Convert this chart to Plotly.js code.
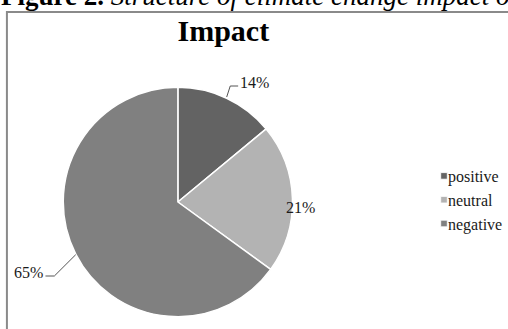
<!DOCTYPE html>
<html>
<head>
<meta charset="utf-8">
<script src="https://cdn.plot.ly/plotly-3.0.1.min.js"></script>
<style>
  html, body { margin: 0; padding: 0; background: #ffffff; }
  #chart { width: 508px; height: 329px; }
  /* smaller legend swatches, tucked next to the labels */
  .legendpie { transform: translate(36px, 0px) scale(0.55); }
</style>
</head>
<body>
<div id="chart"></div>
<script>
// Share of responses by type of climate change impact (%)
const categories = ['positive', 'neutral', 'negative'];
const shares = [14, 21, 65];
const sliceColors = ['#636363', '#b3b3b3', '#808080'];

const W = 508, H = 329;
const serif = 'Liberation Serif, Times New Roman, serif';

// pie geometry in pixels
const cx = 180, cy = 202, R = 116;
const px = x => x / W;
const py = y => 1 - y / H;

// percentage label placement (pixels) and optional leader elbows
const labelPos = [[258, 82], [304, 207], [29, 272]];
const leaderElbows = [[[233, 86], [241, 86]], null, [[55, 276], [46, 276]]];

const total = shares.reduce((a, b) => a + b, 0);
const annotations = [];
const shapes = [];

// chart frame
shapes.push({
  type: 'rect', xref: 'paper', yref: 'paper',
  x0: px(7), x1: px(530), y0: py(12), y1: py(360),
  line: { color: '#8a8a8a', width: 2 }, layer: 'below'
});

let cum = 0;
shares.forEach((v, i) => {
  const mid = (cum + v / 2) / total * 2 * Math.PI;
  cum += v;
  annotations.push({
    xref: 'paper', yref: 'paper',
    x: px(labelPos[i][0]), y: py(labelPos[i][1]),
    xanchor: 'center', yanchor: 'middle', showarrow: false,
    text: v + '%',
    font: { family: serif, size: 16, color: '#1a1a1a' }
  });
  if (leaderElbows[i]) {
    const ex = cx + R * Math.sin(mid), ey = cy - R * Math.cos(mid);
    const pts = [[ex, ey]].concat(leaderElbows[i]);
    const d = pts.map((p, k) => (k ? 'L' : 'M') + px(p[0]) + ',' + py(p[1])).join(' ');
    shapes.push({
      type: 'path', xref: 'paper', yref: 'paper', path: d,
      line: { color: '#555555', width: 1 }
    });
  }
});

// figure caption running across the top edge
annotations.push({
  xref: 'paper', yref: 'paper', x: 0, y: 1, xshift: -1, yshift: -13,
  xanchor: 'left', yanchor: 'bottom', showarrow: false,
  text: '<b>Figure 2.</b> <i>Structure of climate change impact on</i>',
  font: { family: serif, size: 27, color: '#000000' }
});

const trace = {
  type: 'pie',
  labels: categories,
  values: shares,
  sort: false,
  direction: 'clockwise',
  rotation: 0,
  textinfo: 'none',
  hoverinfo: 'label+percent',
  marker: { colors: sliceColors, line: { color: '#ffffff', width: 1.5 } },
  domain: { x: [px(cx - R), px(cx + R)], y: [py(cy + R), py(cy - R)] }
};

const layout = {
  width: W, height: H,
  margin: { l: 0, r: 0, t: 0, b: 0 },
  paper_bgcolor: '#ffffff',
  title: {
    text: '<b>Impact</b>',
    font: { family: serif, size: 30, color: '#000000' },
    x: px(226), xanchor: 'center', xref: 'paper',
    y: py(30), yanchor: 'middle'
  },
  showlegend: true,
  legend: {
    x: px(413), y: py(159), xanchor: 'left', yanchor: 'top',
    font: { family: serif, size: 16, color: '#1a1a1a' },
    bgcolor: 'rgba(0,0,0,0)'
  },
  annotations: annotations,
  shapes: shapes
};

Plotly.newPlot('chart', [trace], layout, { staticPlot: true });
</script>
</body>
</html>
